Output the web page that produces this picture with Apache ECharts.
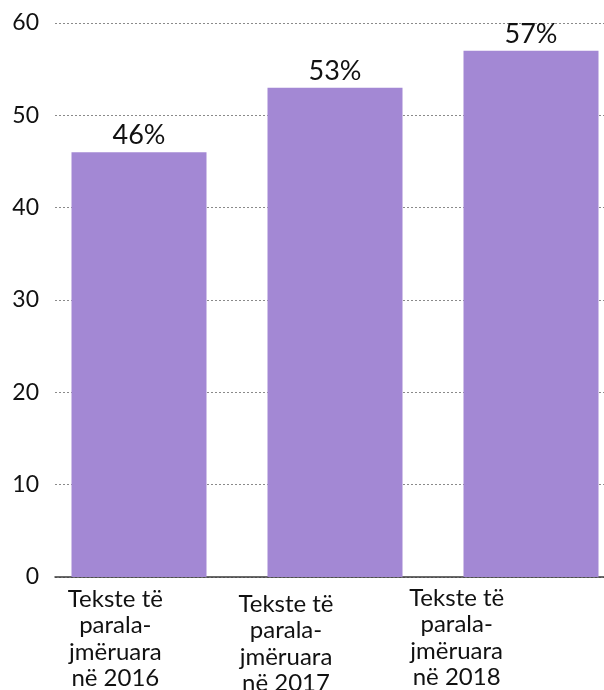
<!DOCTYPE html>
<html>
<head>
<meta charset="utf-8">
<script src="https://cdn.jsdelivr.net/npm/echarts@6/dist/echarts.min.js"></script>
<style>
html, body { margin: 0; padding: 0; background: #fff; }
#main { width: 604px; height: 690px; }
</style>
</head>
<body>
<div id="main"></div>
<script>
// 数据
var categories = ['Tekste të\nparala-\njmëruara\nnë 2016', 'Tekste të\nparala-\njmëruara\nnë 2017', 'Tekste të\nparala-\njmëruara\nnë 2018'];
var values = [46, 53, 57];
var yTicks = [0, 10, 20, 30, 40, 50, 60];
var labelShift = [1, 6, 0]; // x 轴标签的上下错位

var FONT = 'Lato';
var barColor = '#a388d4';

function initBarChart() {
	var myChart = echarts.init(document.getElementById('main'));
	var yMin = yTicks[0], yMax = yTicks[yTicks.length - 1];
	var option = {
		animation: false,
		grid: [
			{ left: 55, right: 0, top: 23, bottom: 113, outerBoundsMode: 'none' },  // 网格线 + y 轴
			{ left: 41, width: 588, top: 23, bottom: 113, outerBoundsMode: 'none' }, // 柱子
			{ left: 30, width: 512, top: 23, bottom: 113, outerBoundsMode: 'none' }  // x 轴标签
		],
		xAxis: [{
			gridIndex: 0,
			type: 'category',
			data: categories,
			axisLine: { lineStyle: { color: '#3a3a3a', width: 1.5 } },
			axisTick: { show: false },
			axisLabel: { show: false }
		}, {
			gridIndex: 1,
			type: 'category',
			data: categories,
			show: false
		}, {
			gridIndex: 2,
			type: 'category',
			data: categories.map(function (c, i) {
				return { value: c, textStyle: { padding: [labelShift[i], 0, 0, 0] } };
			}),
			axisLine: { show: false },
			axisTick: { show: false },
			axisLabel: {
				interval: 0,
				margin: 8,
				color: '#111',
				fontFamily: FONT,
				fontSize: 24,
				lineHeight: 26.5
			}
		}],
		yAxis: [{
			gridIndex: 0,
			type: 'value',
			min: yMin,
			max: yMax,
			interval: 10,
			axisLine: { show: false },
			axisTick: { show: false },
			axisLabel: {
				margin: 16,
				color: '#111',
				fontFamily: FONT,
				fontSize: 23
			},
			splitLine: { lineStyle: { color: '#8a8a8a', type: [2, 2], width: 1 } }
		}, {
			gridIndex: 1, type: 'value', min: yMin, max: yMax, interval: 10, show: false
		}, {
			gridIndex: 2, type: 'value', min: yMin, max: yMax, interval: 10, show: false
		}],
		series: [{
			type: 'bar',
			xAxisIndex: 1,
			yAxisIndex: 1,
			data: values,
			barWidth: 135,
			itemStyle: { color: barColor },
			label: {
				show: true,
				position: 'top',
				distance: 3,
				color: '#111',
				fontFamily: FONT,
				fontSize: 27,
				formatter: '{c}%'
			}
		}]
	};
	myChart.setOption(option);
}

initBarChart();
</script>
</body>
</html>
